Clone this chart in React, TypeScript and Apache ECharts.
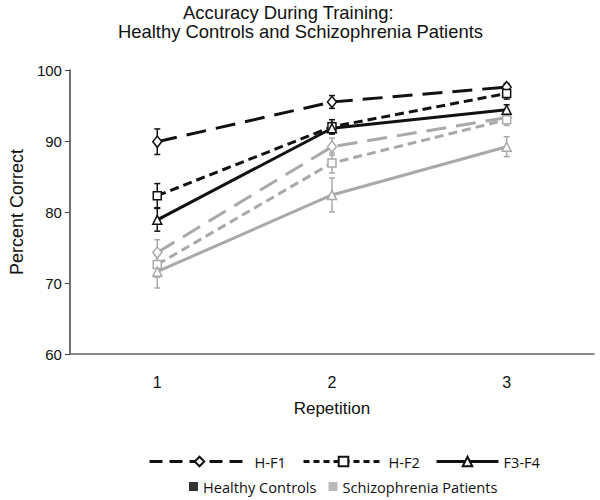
import React, { useEffect, useRef } from "react";
import * as echarts from "echarts";

const repetitions = ["1", "2", "3"];

const healthyHF1 = [89.9, 95.5, 97.6];
const healthyHF2 = [82.3, 92.0, 96.7];
const healthyF3F4 = [78.9, 91.8, 94.4];
const patientsHF1 = [74.3, 89.2, 93.3];
const patientsHF2 = [72.6, 86.9, 93.0];
const patientsF3F4 = [71.6, 82.4, 89.2];

const healthyHF1Err = [1.8, 0.9, 0.5];
const healthyHF2Err = [1.7, 1.0, 0.8];
const healthyF3F4Err = [1.6, 0.8, 0.7];
const patientsHF1Err = [1.8, 1.2, 0.8];
const patientsHF2Err = [1.8, 1.4, 0.8];
const patientsF3F4Err = [2.3, 2.4, 1.4];

const BLACK = "#111111";
const GRAY = "#a9a9a9";
const LONG_DASH = [20, 10];
const SHORT_DASH = [9, 5];

function lineSeries(name: string, data: number[], color: string, dash: any, symbol: string, symbolSize: any, z: number) {
  return {
    type: "line",
    name,
    data,
    symbol,
    symbolSize,
    z,
    lineStyle: { color, width: 3, type: dash },
    itemStyle: { color: "#ffffff", borderColor: color, borderWidth: 1.5 },
  };
}

function errSeries(name: string, vals: number[], errs: number[], color: string) {
  return {
    type: "custom",
    name,
    z: 1,
    encode: { x: 0, y: [1, 2] },
    data: vals.map((v, i) => [i, v - errs[i], v + errs[i]]),
    renderItem: (params: any, api: any) => {
      const x = api.value(0);
      const lo = api.coord([x, api.value(1)]);
      const hi = api.coord([x, api.value(2)]);
      const w = 3;
      const st = { stroke: color, lineWidth: 1.5 };
      return {
        type: "group",
        children: [
          { type: "line", shape: { x1: lo[0], y1: lo[1], x2: hi[0], y2: hi[1] }, style: st },
          { type: "line", shape: { x1: lo[0] - w, y1: lo[1], x2: lo[0] + w, y2: lo[1] }, style: st },
          { type: "line", shape: { x1: hi[0] - w, y1: hi[1], x2: hi[0] + w, y2: hi[1] }, style: st },
        ],
      };
    },
  };
}

export default function App() {
  const ref = useRef<HTMLDivElement>(null);
  useEffect(() => {
    if (!ref.current) return;
    const chart = echarts.init(ref.current, null, { renderer: "svg" });
    const legendText = { fontFamily: "Open Sans", fontSize: 14.6, color: "#111" };
    const titleText = {
      fontFamily: "Liberation Sans",
      fontSize: 18.4,
      lineHeight: 18,
      fontWeight: "normal",
      color: "#111",
    };
    chart.setOption({
      animation: false,
      backgroundColor: "#ffffff",
      title: [
        { text: "Accuracy During Training:", left: 183, top: 3, padding: 0, textStyle: titleText },
        { text: "Healthy Controls and Schizophrenia Patients", left: 118, top: 22, padding: 0, textStyle: titleText },
      ],
      grid: { left: 68, right: 6, top: 70, bottom: 146 },
      legend: [
        {
          data: ["H-F1"],
          left: 143,
          top: 449,
          itemWidth: 100,
          itemHeight: 12,
          textStyle: legendText,
          lineStyle: { type: [13, 7], width: 3 },
        },
        {
          data: ["H-F2"],
          left: 297,
          top: 449,
          itemWidth: 80,
          itemHeight: 12,
          textStyle: legendText,
          lineStyle: { type: [6, 4], width: 3 },
        },
        {
          data: ["F3-F4"],
          left: 430,
          top: 449,
          itemWidth: 62,
          itemHeight: 12,
          textStyle: legendText,
          lineStyle: { width: 3 },
        },
        {
          data: ["Healthy Controls", "Schizophrenia Patients"],
          left: 184,
          top: 474,
          icon: "rect",
          itemWidth: 9,
          itemHeight: 9,
          itemGap: 12,
          textStyle: legendText,
        },
      ],
      xAxis: {
        type: "category",
        data: repetitions,
        name: "Repetition",
        nameLocation: "middle",
        nameGap: 46,
        nameTextStyle: { fontFamily: "Liberation Sans", fontSize: 17, color: "#111" },
        axisLine: { lineStyle: { color: "#666", width: 1.5 } },
        axisTick: { inside: true, length: 4, lineStyle: { color: "#444" } },
        axisLabel: { fontFamily: "Liberation Sans", fontSize: 16, color: "#111", margin: 20 },
      },
      yAxis: {
        type: "value",
        min: 60,
        max: 100,
        interval: 10,
        name: "Percent Correct",
        nameLocation: "middle",
        nameGap: 42,
        nameTextStyle: { fontFamily: "Liberation Sans", fontSize: 18, color: "#111" },
        splitLine: { show: false },
        axisLine: { show: true, lineStyle: { color: "#444", width: 1.5 } },
        axisTick: { show: true, length: 5, lineStyle: { color: "#444" } },
        axisLabel: { fontFamily: "Liberation Sans", fontSize: 15, color: "#111", margin: 8 },
      },
      series: [
        errSeries("err p HF1", patientsHF1, patientsHF1Err, GRAY),
        errSeries("err p HF2", patientsHF2, patientsHF2Err, GRAY),
        errSeries("err p F3F4", patientsF3F4, patientsF3F4Err, GRAY),
        errSeries("err h HF1", healthyHF1, healthyHF1Err, BLACK),
        errSeries("err h HF2", healthyHF2, healthyHF2Err, BLACK),
        errSeries("err h F3F4", healthyF3F4, healthyF3F4Err, BLACK),
        lineSeries("Patients H-F1", patientsHF1, GRAY, LONG_DASH, "diamond", [9, 11], 2),
        lineSeries("Patients H-F2", patientsHF2, GRAY, SHORT_DASH, "rect", 8, 2),
        lineSeries("Patients F3-F4", patientsF3F4, GRAY, "solid", "triangle", 9, 2),
        lineSeries("Healthy H-F1", healthyHF1, BLACK, LONG_DASH, "diamond", [9, 11], 3),
        lineSeries("Healthy H-F2", healthyHF2, BLACK, SHORT_DASH, "rect", 8, 3),
        lineSeries("Healthy F3-F4", healthyF3F4, BLACK, "solid", "triangle", 9, 3),
        lineSeries("H-F1", [], BLACK, LONG_DASH, "diamond", [9, 11], 3),
        lineSeries("H-F2", [], BLACK, SHORT_DASH, "rect", 8, 3),
        lineSeries("F3-F4", [], BLACK, "solid", "triangle", 9, 3),
        { type: "scatter", name: "Healthy Controls", data: [], itemStyle: { color: "#000000" } },
        { type: "scatter", name: "Schizophrenia Patients", data: [], itemStyle: { color: GRAY } },
      ],
    });
    return () => chart.dispose();
  }, []);
  return <div ref={ref} style={{ position: "absolute", left: 0, top: 0, width: 600, height: 500 }} />;
}
